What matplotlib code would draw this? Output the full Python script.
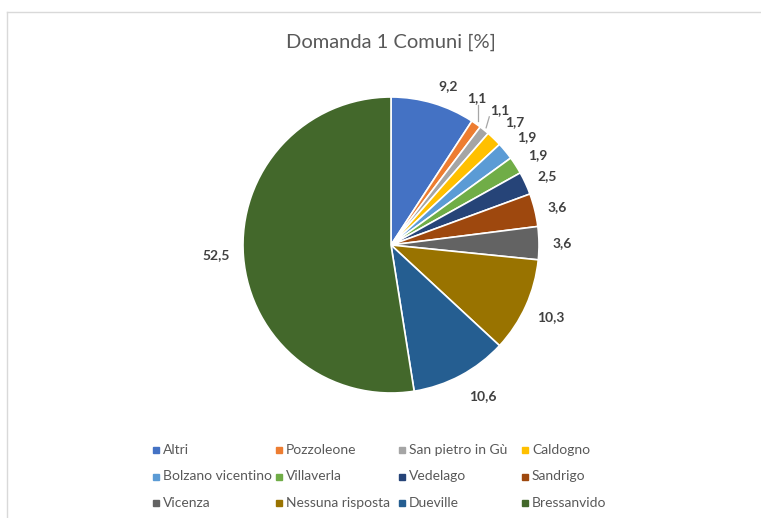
"""Domanda 1 Comuni: torta con etichette esterne e legenda a griglia (stile Excel)."""

import numpy as np
import matplotlib

matplotlib.use("Agg")
import matplotlib.pyplot as plt
from matplotlib.lines import Line2D

plt.rcParams["font.family"] = ["Lato", "DejaVu Sans"]

# --- dati ---
comuni = [
    "Altri", "Pozzoleone", "San pietro in Gù", "Caldogno",
    "Bolzano vicentino", "Villaverla", "Vedelago", "Sandrigo",
    "Vicenza", "Nessuna risposta", "Dueville", "Bressanvido",
]
percentuali = [9.2, 1.1, 1.1, 1.7, 1.9, 1.9, 2.5, 3.6, 3.6, 10.3, 10.6, 52.5]
colori = [
    "#4472C4", "#ED7D31", "#A5A5A5", "#FFC000", "#5B9BD5", "#70AD47",
    "#264478", "#9E480E", "#636363", "#997300", "#255E91", "#43682B",
]

# spostamenti etichette (gradi) e distanza dal centro, come li sistema Excel
nudge = [-3.1, 4.8, 0.2, -1.1, -0.9, -1.1, -0.8, -1.0, -0.2, 0, 3.3, -1.2]
dist = [1.14, 1.15, 1.17, 1.18, 1.17, 1.165, 1.153, 1.153, 1.159, 1.186, 1.195, 1.185]
leader = [False, True, True] + [False] * 9

W, H = 761, 518
CX, CY, R = 391, 245, 148  # pixel

fig = plt.figure(figsize=(W / 100, H / 100), dpi=100)
ax = fig.add_axes([0, 0, 1, 1])

wedges, _ = ax.pie(
    percentuali, colors=colori, startangle=90, counterclock=False,
    radius=1, wedgeprops={"edgecolor": "white", "linewidth": 1.2},
)
ax.set_xlim(-CX / R, (W - CX) / R)
ax.set_ylim(-(H - CY) / R, CY / R)
ax.set_aspect("auto")
ax.axis("off")

# etichette valori
hw, hh = 0.07, 0.045
for w, val, dn, d, ld in zip(wedges, percentuali, nudge, dist, leader):
    mid = np.deg2rad((w.theta1 + w.theta2) / 2)
    a = mid + np.deg2rad(dn)
    cx, cy = d * np.cos(a), d * np.sin(a)
    ax.text(cx, cy, f"{val:.1f}".replace(".", ","), ha="center", va="center",
            fontsize=10, fontweight="bold", color="#404040")
    if ld:
        px, py = 1.02 * np.cos(mid), 1.02 * np.sin(mid)
        ex = cx + np.clip(px - cx, -hw, hw)
        ey = cy + np.clip(py - cy, -hh, hh)
        ax.plot([px, ex], [py, ey], color="#A6A6A6", lw=0.9)

# titolo
fig.text(CX / W, 1 - 42 / H, "Domanda 1 Comuni [%]", ha="center", va="center",
         fontsize=14.5, color="#595959")

# legenda a griglia 4 colonne, riempita per righe
x0, dx = 156, 123
y0, dy = 450, 26.5
for i, (nome, col) in enumerate(zip(comuni, colori)):
    r, c = divmod(i, 4)
    x = (x0 + c * dx) / W
    y = 1 - (y0 + r * dy) / H
    fig.add_artist(Line2D([x], [y], marker="s", markersize=4.5, color=col,
                          linestyle="none", transform=fig.transFigure))
    fig.text(x + 7 / W, y, nome, ha="left", va="center", fontsize=10,
             color="#595959")

# cornice grigia chiara
bx, by = 7 / W, 1 - 12 / H
fig.add_artist(Line2D([bx, 1], [by, by], color="#D9D9D9", lw=1,
                      transform=fig.transFigure))
fig.add_artist(Line2D([bx, bx], [0, by], color="#D9D9D9", lw=1,
                      transform=fig.transFigure))

fig.savefig("out.png", dpi=100, facecolor="white")
plt.close(fig)
